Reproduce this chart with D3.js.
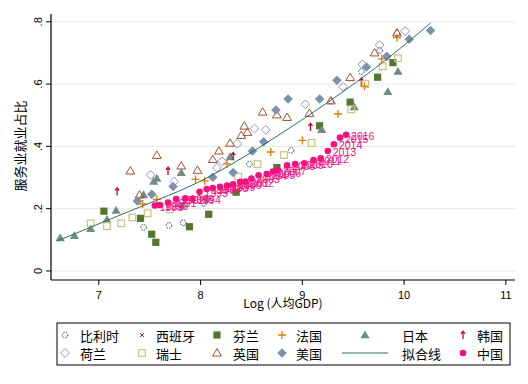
<!DOCTYPE html>
<html>
<head>
<meta charset="utf-8">
<script src="https://cdn.jsdelivr.net/npm/d3@7"></script>
<style>
  body { margin: 0; background: #fff; }
  svg { display: block; }
</style>
</head>
<body>
<svg id="chart"></svg>
<script>
// [log GDP per capita, service employment share]
const belgium = [[7.44,0.140],[7.69,0.146],[7.83,0.155],[8.03,0.217],[8.48,0.343],[8.89,0.387],[9.28,0.545],[9.58,0.640],[9.76,0.708],[9.93,0.763]];
const spain = []; // no visible points in the reference
const finland = [[7.05,0.192],[7.41,0.169],[7.52,0.118],[7.56,0.092],[7.89,0.142],[8.08,0.182],[8.35,0.253],[8.75,0.332],[9.17,0.466],[9.47,0.542],[9.74,0.622],[9.89,0.669]];
const france = [[7.43,0.215],[7.57,0.230],[7.95,0.294],[8.04,0.289],[8.26,0.344],[8.69,0.382],[9.00,0.419],[9.35,0.504],[9.61,0.593],[9.78,0.681],[9.93,0.749]];
const japan = [[6.62,0.106],[6.76,0.113],[6.92,0.135],[7.08,0.165],[7.17,0.194],[7.44,0.244],[7.54,0.287],[7.57,0.297],[7.81,0.315],[8.29,0.366],[9.19,0.453],[9.51,0.526],[9.84,0.575],[9.94,0.640]];
const korea = [[7.18,0.255],[7.68,0.321],[8.32,0.368],[9.08,0.462],[9.58,0.607]];
const netherlands = [[7.51,0.308],[7.74,0.287],[8.16,0.331],[8.21,0.352],[8.36,0.408],[8.53,0.457],[8.64,0.453],[9.03,0.535],[9.40,0.591],[9.59,0.663],[9.76,0.725],[10.01,0.770]];
const switzerland = [[6.92,0.153],[7.08,0.144],[7.22,0.153],[7.33,0.172],[7.48,0.185],[7.70,0.198],[8.37,0.303],[8.56,0.343],[8.82,0.372],[9.09,0.411],[9.48,0.519],[9.62,0.600],[9.79,0.657],[9.94,0.683]];
const uk = [[7.31,0.321],[7.40,0.244],[7.57,0.371],[7.81,0.337],[7.97,0.323],[8.12,0.358],[8.18,0.385],[8.29,0.410],[8.40,0.435],[8.43,0.465],[8.46,0.445],[8.61,0.510],[8.75,0.501],[8.85,0.493],[9.07,0.506],[9.28,0.546],[9.47,0.621],[9.71,0.700],[9.93,0.764]];
const usa = [[7.38,0.225],[7.52,0.246],[7.73,0.271],[7.82,0.208],[8.06,0.231],[8.12,0.301],[8.32,0.316],[8.51,0.385],[8.62,0.415],[8.74,0.517],[8.86,0.552],[9.17,0.552],[9.34,0.612],[9.63,0.655],[9.83,0.689],[10.05,0.744],[10.26,0.772]];

const chinaYears = [1989,1990,1991,1992,1993,1994,1995,1996,1997,1998,1999,2000,2001,2002,2003,2004,2005,2006,2007,2008,2009,2010,2011,2012,2013,2014,2015,2016];
const chinaX = [7.55,7.60,7.68,7.76,7.85,7.92,7.99,8.06,8.12,8.19,8.26,8.32,8.39,8.44,8.50,8.57,8.65,8.71,8.76,8.85,8.93,9.02,9.11,9.18,9.25,9.31,9.37,9.43];
const chinaY = [0.210,0.212,0.220,0.231,0.233,0.231,0.254,0.263,0.266,0.270,0.274,0.278,0.286,0.287,0.297,0.307,0.311,0.319,0.323,0.339,0.343,0.346,0.356,0.362,0.385,0.407,0.428,0.437];

// fitted line
const fitX = [6.59, 7.50, 8.29, 9.47, 10.26];
const fitY = [0.096, 0.218, 0.340, 0.592, 0.796];

const xTicks = [7, 8, 9, 10, 11];
const yTicks = [0, 0.2, 0.4, 0.6, 0.8];
const yTickLabels = ["0", ".2", ".4", ".6", ".8"];

const width = 528;
const height = 384;
const font = "'Liberation Sans', Arial, sans-serif";
const cjk = "'Noto Sans CJK SC', sans-serif";

const x = d3.scaleLinear().domain([6.53, 11.09]).range([51, 515]);
const y = d3.scaleLinear().domain([-0.029, 0.825]).range([280, 14]);

const svg = d3.select("#chart").attr("width", width).attr("height", height);

// markers
function marker(g, shape, color) {
  switch (shape) {
    case "Oh":
      return g.append("circle").attr("r", 2.8).attr("fill", "none")
        .attr("stroke", color).attr("stroke-width", 1).attr("stroke-dasharray", "1.6,1.1");
    case "x":
      return g.append("path").attr("d", "M-2,-2L2,2M-2,2L2,-2")
        .attr("stroke", color).attr("stroke-width", 1);
    case "S":
      return g.append("rect").attr("x", -3.6).attr("y", -3.6).attr("width", 7.2).attr("height", 7.2)
        .attr("fill", color);
    case "+":
      return g.append("path").attr("d", "M-4,0H4M0,-4V4")
        .attr("stroke", color).attr("stroke-width", 1.3);
    case "T":
      return g.append("path").attr("d", "M0,-4.6L4.6,3.2L-4.6,3.2Z").attr("fill", color);
    case "arrow":
      return g.append("path").attr("d", "M0,4V-3.5M-2,-1.2L0,-3.8L2,-1.2")
        .attr("fill", "none").attr("stroke", color).attr("stroke-width", 1.3);
    case "Dh":
      return g.append("path").attr("d", "M0,-4.4L4.4,0L0,4.4L-4.4,0Z")
        .attr("fill", "none").attr("stroke", color).attr("stroke-width", 1);
    case "Sh":
      return g.append("rect").attr("x", -3.3).attr("y", -3.3).attr("width", 6.6).attr("height", 6.6)
        .attr("fill", "none").attr("stroke", color).attr("stroke-width", 1.2);
    case "Th":
      return g.append("path").attr("d", "M0,-4.4L4.4,3L-4.4,3Z")
        .attr("fill", "none").attr("stroke", color).attr("stroke-width", 1);
    case "D":
      return g.append("path").attr("d", "M0,-4.8L4.8,0L0,4.8L-4.8,0Z").attr("fill", color);
    case "O":
      return g.append("circle").attr("r", 3.3).attr("fill", color);
  }
}

const china = chinaYears.map((yr, i) => [chinaX[i], chinaY[i], yr]);

const series = [
  { name: "比利时", data: belgium, shape: "Oh", color: "#1a476f" },
  { name: "西班牙", data: spain, shape: "x", color: "#90353b" },
  { name: "芬兰", data: finland, shape: "S", color: "#55752f" },
  { name: "法国", data: france, shape: "+", color: "#e37e00" },
  { name: "日本", data: japan, shape: "T", color: "#6e8e84" },
  { name: "韩国", data: korea, shape: "arrow", color: "#c10534" },
  { name: "荷兰", data: netherlands, shape: "Dh", color: "#938dd2" },
  { name: "瑞士", data: switzerland, shape: "Sh", color: "#cac27e" },
  { name: "英国", data: uk, shape: "Th", color: "#a0522d" },
  { name: "美国", data: usa, shape: "D", color: "#7b92a8" },
  { name: "拟合线", data: null, shape: "line", color: "#2d6d66" },
  { name: "中国", data: china, shape: "O", color: "#f5107f" },
];

// grid
svg.append("g").selectAll("line").data(yTicks).join("line")
  .attr("x1", 51).attr("x2", 515)
  .attr("y1", d => y(d)).attr("y2", d => y(d))
  .attr("stroke", "#e6e6e6").attr("stroke-width", 1);

// axes
const yAxis = svg.append("g");
yAxis.append("line").attr("x1", 51).attr("x2", 51).attr("y1", 14).attr("y2", 280)
  .attr("stroke", "#000").attr("stroke-width", 1.2);
yAxis.selectAll("line.tick").data(yTicks).join("line").attr("class", "tick")
  .attr("x1", 46).attr("x2", 51).attr("y1", d => y(d)).attr("y2", d => y(d))
  .attr("stroke", "#000");
yAxis.selectAll("text").data(yTicks).join("text")
  .attr("transform", d => `translate(42,${y(d)}) rotate(-90)`)
  .attr("text-anchor", "middle")
  .attr("font-family", font).attr("font-size", 11)
  .text((d, i) => yTickLabels[i]);

const xAxis = svg.append("g");
xAxis.append("line").attr("x1", 51).attr("x2", 515).attr("y1", 280).attr("y2", 280)
  .attr("stroke", "#000").attr("stroke-width", 1.2);
xAxis.selectAll("line.tick").data(xTicks).join("line").attr("class", "tick")
  .attr("x1", d => x(d)).attr("x2", d => x(d)).attr("y1", 280).attr("y2", 285)
  .attr("stroke", "#000");
xAxis.selectAll("text").data(xTicks).join("text")
  .attr("x", d => x(d)).attr("y", 298.5)
  .attr("text-anchor", "middle")
  .attr("font-family", font).attr("font-size", 11)
  .text(d => d);

svg.append("text").attr("x", 283).attr("y", 308)
  .attr("text-anchor", "middle").attr("font-family", cjk).attr("font-size", 12)
  .text("Log (人均GDP)");

svg.append("text").attr("transform", "translate(25,146) rotate(-90)")
  .attr("text-anchor", "middle").attr("font-family", cjk).attr("font-size", 13)
  .text("服务业就业占比");

// points
const plot = svg.append("g");
series.forEach(s => {
  if (s.shape === "line") {
    plot.append("path")
      .datum(fitX.map((v, i) => [v, fitY[i]]))
      .attr("d", d3.line().x(d => x(d[0])).y(d => y(d[1])).curve(d3.curveNatural))
      .attr("fill", "none").attr("stroke", s.color).attr("stroke-width", 1);
    return;
  }
  s.data.forEach(d => {
    const g = plot.append("g").attr("transform", `translate(${x(d[0])},${y(d[1])})`);
    marker(g, s.shape, s.color);
  });
});

// China year labels
plot.append("g").selectAll("text").data(china).join("text")
  .attr("x", d => x(d[0]) + 5)
  .attr("y", d => y(d[1]) + 5)
  .attr("font-family", font).attr("font-size", 10.5)
  .attr("fill", "#f5107f")
  .text(d => d[2]);

// legend
const legend = svg.append("g");
legend.append("rect").attr("x", 57).attr("y", 323).attr("width", 453).attr("height", 42)
  .attr("fill", "#fff").attr("stroke", "#000").attr("stroke-width", 1);
const symX = [65, 142, 217, 282, 365, 463];
const textX = [80, 156, 233, 296, 402, 477];
const rowY = [335, 353];
series.forEach((s, i) => {
  const col = i % 6, row = Math.floor(i / 6);
  const g = legend.append("g").attr("transform", `translate(${symX[col]},${rowY[row]})`);
  if (s.shape === "line") {
    g.append("line").attr("x1", -23).attr("x2", 23).attr("stroke", s.color).attr("stroke-width", 1);
  } else {
    marker(g, s.shape, s.color);
  }
  legend.append("text").attr("x", textX[col]).attr("y", rowY[row])
    .attr("dominant-baseline", "central")
    .attr("font-family", cjk).attr("font-size", 13)
    .text(s.name);
});
</script>
</body>
</html>
